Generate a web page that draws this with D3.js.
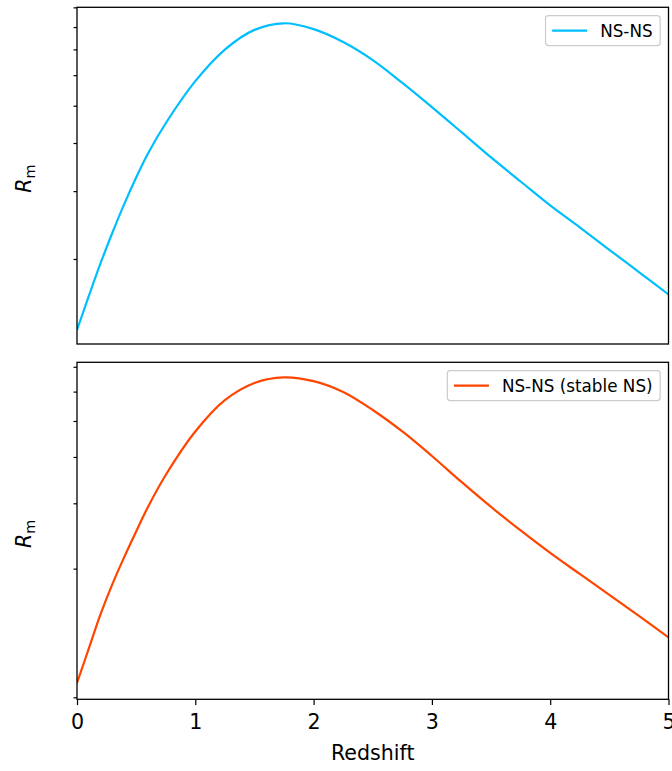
<!DOCTYPE html>
<html>
<head>
<meta charset="utf-8">
<script src="https://cdn.jsdelivr.net/npm/d3@7"></script>
<style>
  html, body { margin: 0; padding: 0; background: #ffffff; }
  svg { display: block; font-family: "DejaVu Sans", sans-serif; }
</style>
</head>
<body>
<svg id="chart" width="672" height="771"></svg>
<script>
// ---- data ----
const redshift = [0, 0.1, 0.2, 0.3, 0.4, 0.5, 0.6, 0.75, 1.0, 1.25, 1.5, 1.75, 2.0, 2.25, 2.5, 2.75, 3.0, 3.25, 3.5, 3.75, 4.0, 4.25, 4.5, 4.75, 5.0];
const rateNSNS = [1.308, 1.603, 1.953, 2.343, 2.779, 3.254, 3.758, 4.501, 5.789, 6.992, 7.866, 8.183, 7.904, 7.317, 6.567, 5.730, 4.958, 4.268, 3.669, 3.178, 2.755, 2.416, 2.113, 1.849, 1.618];
const rateStable = [0.984, 1.219, 1.510, 1.819, 2.151, 2.519, 2.933, 3.577, 4.685, 5.692, 6.333, 6.557, 6.404, 5.985, 5.353, 4.685, 4.024, 3.425, 2.933, 2.535, 2.205, 1.935, 1.699, 1.491, 1.305];
const seriesNames = ["NS-NS", "NS-NS (stable NS)"];
const seriesColors = ["#00bfff", "#ff4500"];
const xTicks = [0, 1, 2, 3, 4, 5];
const yTicksTop = [2, 3, 4, 5, 6, 7, 8, 9];        // unlabelled minor log ticks
const yTicksBottom = [0.9, 2, 3, 4, 5, 6, 7];
const yDomainTop = [1.203, 9.003];
const yDomainBottom = [0.889, 7.197];
const xLabel = "Redshift";

// ---- layout ----
const svg = d3.select("#chart");
const left = 77, right = 668.5;
const panels = [
  { top: 7.3, bottom: 344, values: rateNSNS, ticks: yTicksTop, domain: yDomainTop, name: seriesNames[0], color: seriesColors[0], showX: false },
  { top: 362.3, bottom: 699.3, values: rateStable, ticks: yTicksBottom, domain: yDomainBottom, name: seriesNames[1], color: seriesColors[1], showX: true }
];
const x = d3.scaleLinear().domain([0, 5]).range([left, right]);
const fontLabel = 20.6, fontLegend = 16.8;

panels.forEach((p, i) => {
  const y = d3.scaleLog().domain(p.domain).range([p.bottom, p.top]);
  const g = svg.append("g");

  // clip
  const clipId = "clip" + i;
  svg.append("defs").append("clipPath").attr("id", clipId)
    .append("rect").attr("x", left).attr("y", p.top).attr("width", right - left).attr("height", p.bottom - p.top);

  // line
  const line = d3.line().x((d, k) => x(redshift[k])).y(d => y(d)).curve(d3.curveCatmullRom.alpha(0.5));
  g.append("path").datum(p.values)
    .attr("clip-path", `url(#${clipId})`)
    .attr("fill", "none").attr("stroke", p.color).attr("stroke-width", 2.2)
    .attr("stroke-linejoin", "round").attr("d", line);

  // y axis (minor ticks only, no labels)
  const ya = g.append("g").attr("transform", `translate(${left},0)`)
    .call(d3.axisLeft(y).tickValues(p.ticks).tickSize(3.5).tickFormat(""));
  ya.select(".domain").remove();
  ya.selectAll(".tick line").attr("stroke", "#000").attr("stroke-width", 1.2);

  // x axis
  if (p.showX) {
    const xa = g.append("g").attr("transform", `translate(0,${p.bottom})`)
      .call(d3.axisBottom(x).tickValues(xTicks).tickSize(5.8).tickPadding(9.5).tickFormat(d3.format("d")));
    xa.select(".domain").remove();
    xa.selectAll(".tick line").attr("stroke", "#000").attr("stroke-width", 1.2);
    xa.selectAll(".tick text").attr("font-size", fontLabel).attr("fill", "#000")
      .attr("font-family", "DejaVu Sans");
    svg.append("text").attr("x", (left + right) / 2).attr("y", 760)
      .attr("text-anchor", "middle").attr("font-size", fontLabel).attr("fill", "#000").text(xLabel);
  }

  // frame
  g.append("rect").attr("x", left).attr("y", p.top).attr("width", right - left).attr("height", p.bottom - p.top)
    .attr("fill", "none").attr("stroke", "#000").attr("stroke-width", 1.3);

  // y label R_m
  const cy = (p.top + p.bottom) / 2 + 3;
  const yl = svg.append("text").attr("transform", `translate(31,${cy}) rotate(-90)`)
    .attr("text-anchor", "middle").attr("font-size", fontLabel).attr("fill", "#000");
  yl.append("tspan").attr("font-style", "italic").text("R");
  yl.append("tspan").attr("font-size", fontLabel * 0.7).attr("dy", 3.5).text("m");

  // legend
  const lg = svg.append("g");
  const txt = lg.append("text").attr("font-size", fontLegend).attr("fill", "#000").text(p.name);
  const tw = txt.node().getComputedTextLength();
  const pad = 6.6, handle = 35, tpad = 13;
  const w = pad + handle + tpad + tw + pad + 1;
  const h = 30;
  const bx = right - 8.3 - w, by = p.top + 8.3;
  lg.insert("rect", "text").attr("x", bx).attr("y", by).attr("width", w).attr("height", h)
    .attr("rx", 3).attr("ry", 3).attr("fill", "#fff").attr("fill-opacity", 0.8)
    .attr("stroke", "#cccccc").attr("stroke-width", 1.2);
  lg.append("line").attr("x1", bx + pad).attr("x2", bx + pad + handle)
    .attr("y1", by + h / 2).attr("y2", by + h / 2)
    .attr("stroke", p.color).attr("stroke-width", 2.2);
  txt.attr("x", bx + pad + handle + tpad).attr("y", by + h / 2 + 6);
});
</script>
</body>
</html>
